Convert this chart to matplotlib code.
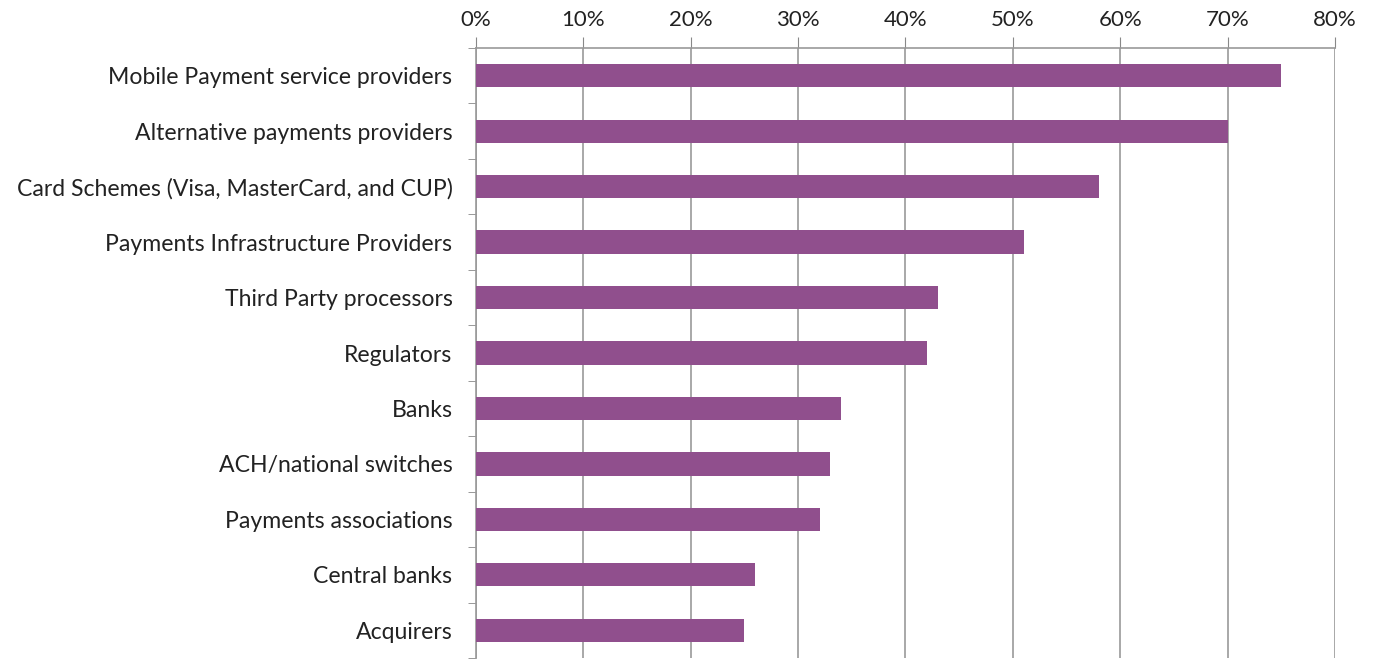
import matplotlib.pyplot as plt
import numpy as np
from matplotlib.ticker import PercentFormatter

categories = [
    'Mobile Payment service providers',
    'Alternative payments providers',
    'Card Schemes (Visa, MasterCard, and CUP)',
    'Payments Infrastructure Providers',
    'Third Party processors',
    'Regulators',
    'Banks',
    'ACH/national switches',
    'Payments associations',
    'Central banks',
    'Acquirers',
]
values = [75, 70, 58, 51, 43, 42, 34, 33, 32, 26, 25]
xticks = [0, 10, 20, 30, 40, 50, 60, 70, 80]

plt.rcParams['font.family'] = ['Lato', 'DejaVu Sans']

fig = plt.figure(figsize=(13.73, 6.61), dpi=100)
ax = fig.add_axes([0.3467, 0.0045, 0.6256, 0.9229])

y = np.arange(len(categories))
ax.barh(y, values, height=0.42, color='#904F8D', zorder=3)

ax.set_xlim(0, 80)
ax.set_ylim(len(categories) - 0.5, -0.5)
ax.set_xticks(xticks)
ax.xaxis.set_major_formatter(PercentFormatter(decimals=0))
ax.xaxis.tick_top()
ax.tick_params(axis='x', length=8, color='#888888', labelsize=16, labelcolor='#222222', pad=5)
ax.grid(axis='x', color='#999999', linewidth=1.2, zorder=0)

ax.set_yticks(y)
ax.set_yticklabels(categories)
ax.set_yticks(np.arange(-0.5, len(categories)), minor=True)
ax.tick_params(axis='y', which='major', length=0, labelsize=16.6, labelcolor='#222222', pad=17)
ax.tick_params(axis='y', which='minor', length=6, color='#888888')

for s in ['right', 'bottom']:
    ax.spines[s].set_visible(False)
ax.spines['top'].set_color('#999999')
ax.spines['left'].set_color('#999999')
ax.spines['top'].set_linewidth(1.2)
ax.spines['left'].set_linewidth(1.2)

fig.savefig('out.png', dpi=100)
